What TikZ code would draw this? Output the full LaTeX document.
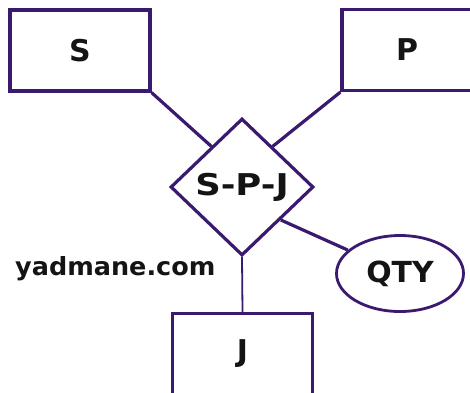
\documentclass[tikz,border=0pt]{standalone}
\usepackage{fontspec}
\setmainfont{DejaVu Sans}
\usetikzlibrary{shapes.geometric,calc}
\definecolor{erline}{RGB}{58,26,110}
\definecolor{ertext}{RGB}{20,20,20}
\tikzset{
  entity/.style={draw=erline,line width=3.2pt,rectangle,minimum width=140pt,minimum height=81pt,inner sep=0pt,font=\fontsize{30}{34}\selectfont\bfseries,text=ertext},
  relation/.style={draw=erline,line width=3.2pt,diamond,minimum width=143pt,minimum height=137pt,inner sep=0pt,font=\fontsize{30}{34}\selectfont\bfseries,text=ertext},
  attrib/.style={draw=erline,line width=2.8pt,ellipse,minimum width=127pt,minimum height=76pt,inner sep=0pt,font=\fontsize{29}{34}\selectfont\bfseries,text=ertext},
  link/.style={draw=erline,line width=3.2pt},
  thinlink/.style={draw=erline,line width=1.8pt},
}
\begin{document}
\begin{tikzpicture}[x=1pt,y=-1pt]
\useasboundingbox (0,0) rectangle (470,392);
\clip (0,0) rectangle (470,392);
\node[entity] (S) at (80,50.5) {S};
\node[entity] (P) at (412,50) {\hspace*{-10pt}P};
\node[entity] (J) at (242.5,354) {J};
\node[relation] (R) at (242,187) {\scalebox{1.18}[1]{S-P-J}};
\node[anchor=base west,inner sep=0pt,text=ertext,font=\fontsize{25}{28}\selectfont\bfseries] (W) at (15,275) {\scalebox{1.02}[1]{yadmane.com}};
\node[attrib] (Q) at (400,273.5) {\scalebox{1.03}[1]{QTY}};
\coordinate (RS) at ($(R.west)!0.58!(R.north)$);
\coordinate (RP) at ($(R.north)!0.42!(R.east)$);
\coordinate (RQ) at ($(R.east)!0.47!(R.south)$);
\draw[link] (S.south east) -- (RS);
\draw[link] (P.south west) -- (RP);
\draw[link] (RQ) -- (Q);
\draw[thinlink] (R.south) -- (J.north);
\end{tikzpicture}
\end{document}
